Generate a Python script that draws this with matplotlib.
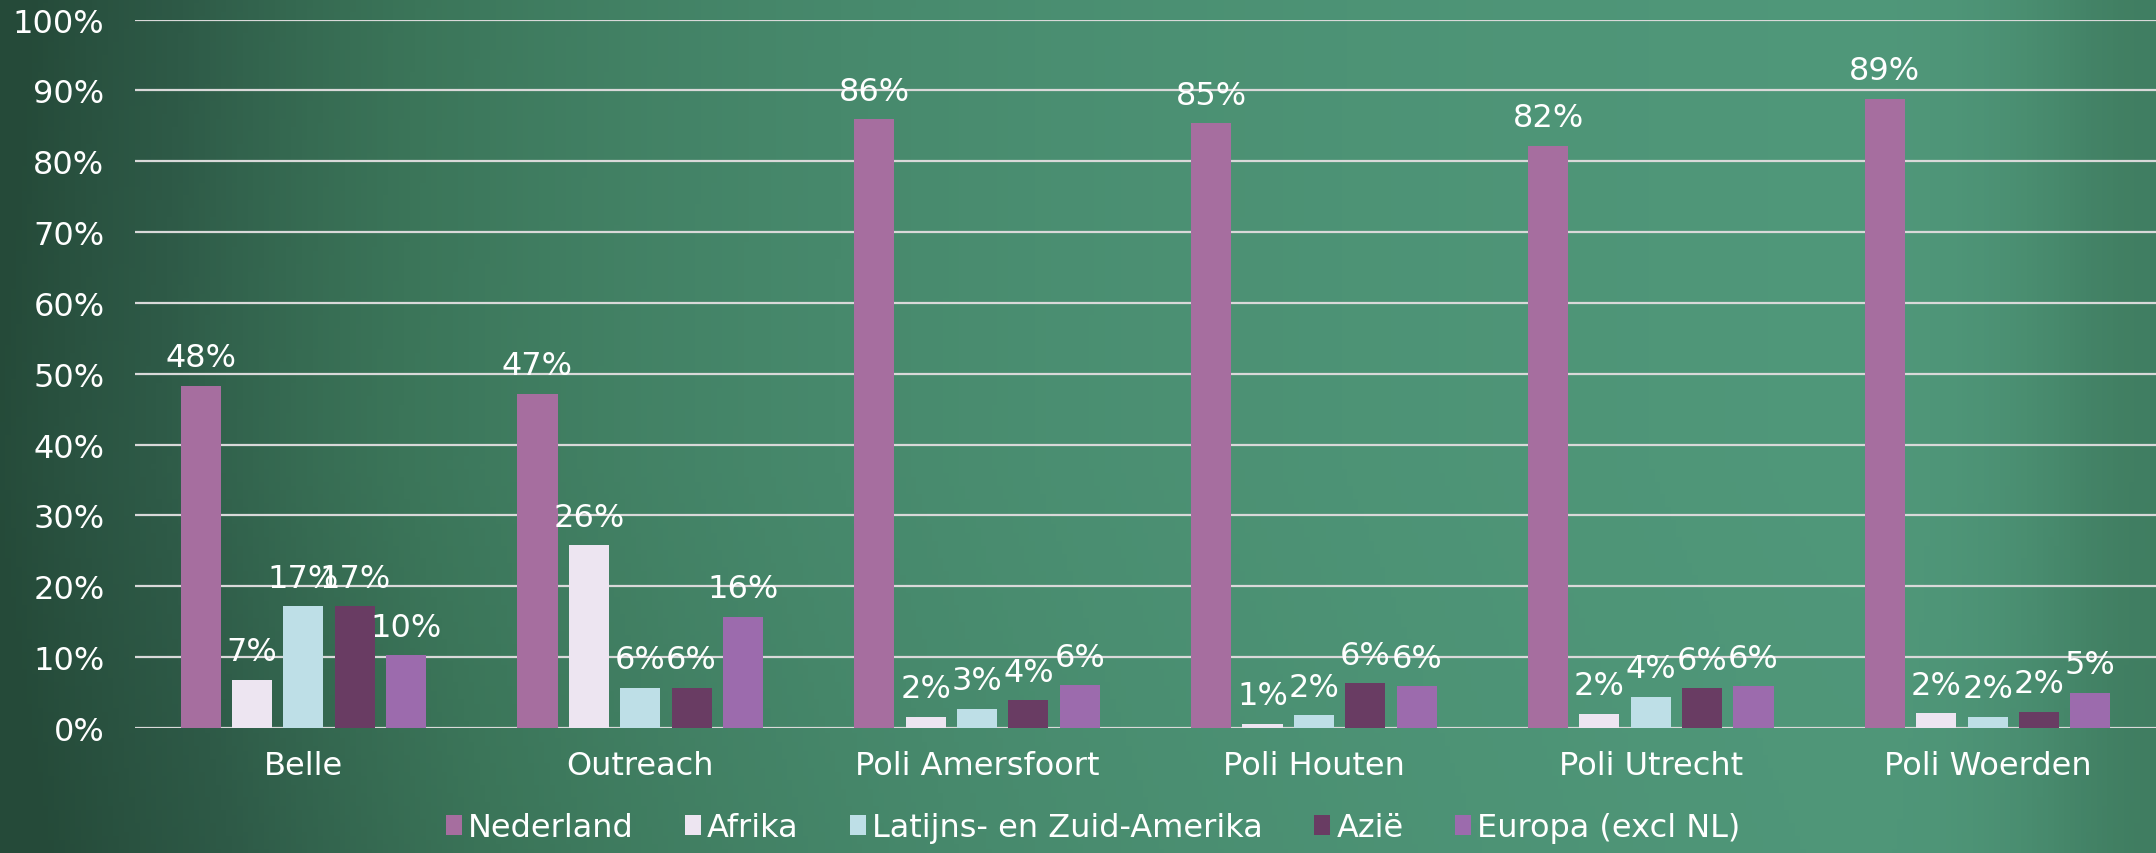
import numpy as np
import matplotlib.pyplot as plt
from matplotlib.colors import LinearSegmentedColormap
from matplotlib.ticker import PercentFormatter

# data (percent)
categories = ['Belle', 'Outreach', 'Poli Amersfoort', 'Poli Houten', 'Poli Utrecht', 'Poli Woerden']
series_names = ['Nederland', 'Afrika', 'Latijns- en Zuid-Amerika', 'Azië', 'Europa (excl NL)']
nederland = [48.3, 47.2, 85.9, 85.4, 82.2, 88.8]
afrika = [6.8, 25.8, 1.6, 0.6, 2.0, 2.1]
latijns = [17.2, 5.7, 2.7, 1.8, 4.4, 1.6]
azie = [17.2, 5.7, 3.9, 6.3, 5.6, 2.3]
europa = [10.3, 15.7, 6.0, 5.9, 5.9, 5.0]
yticks = [0, 10, 20, 30, 40, 50, 60, 70, 80, 90, 100]

colors = ['#A66E9F', '#EDE5F1', '#BEDFE7', '#693C63', '#9C6BAD']

plt.rcParams['font.family'] = ['DejaVu Sans']
fig = plt.figure(figsize=(21.56, 8.54), dpi=100)

# chalkboard-like background: smooth gradient
bg = fig.add_axes([0, 0, 1, 1], zorder=0)
gx, gy = np.meshgrid(np.linspace(0, 1, 400), np.linspace(0, 1, 200))
light = 1 - np.exp(-(gx + 0.03) / 0.3)
light = light - 0.35 * np.exp(-((gx - 1.0) ** 2) / 0.004)
light = light - 0.35 * np.clip(gy - 0.55, 0, None) * np.exp(-gx / 0.35)
light = light - 0.15 * np.exp(-gx / 0.1) * (1 - gy)
board = LinearSegmentedColormap.from_list('board', ['#254A39', '#2E5A47', '#3B7559', '#47896C', '#529B7D'])
bg.imshow(light, cmap=board, aspect='auto', extent=[0, 1, 0, 1], origin='upper', vmin=0.0, vmax=1.0)
bg.axis('off')

ax = fig.add_axes([0.0626, 0.1464, 0.9374, 0.8295], zorder=1)
ax.patch.set_alpha(0)

x = np.arange(len(categories))
width = 0.119
step = 0.1525
data = [nederland, afrika, latijns, azie, europa]
for i, (name, vals) in enumerate(zip(series_names, data)):
    pos = x + (i - 2) * step
    bars = ax.bar(pos, vals, width, color=colors[i], label=name, zorder=3)
    for b, v in zip(bars, vals):
        ax.annotate(f'{round(v):.0f}%', (b.get_x() + b.get_width() / 2, v),
                    xytext=(0, 9), textcoords='offset points',
                    ha='center', va='bottom', color='white', fontsize=23, zorder=4)

ax.set_xlim(-0.5, len(categories) - 0.5)
ax.set_ylim(0, 100)
ax.set_yticks(yticks)
ax.yaxis.set_major_formatter(PercentFormatter(decimals=0))
ax.set_xticks(x)
ax.set_xticklabels(categories)
ax.tick_params(axis='both', length=0, colors='white', labelsize=23)
ax.tick_params(axis='y', pad=22)
ax.tick_params(axis='x', pad=16)
ax.grid(axis='y', color='#D9D9D9', linewidth=1.6, zorder=1)
for s in ax.spines.values():
    s.set_visible(False)

leg = fig.legend(loc='lower center', bbox_to_anchor=(0.507, -0.022), ncol=5, frameon=False,
                 fontsize=23, handlelength=0.5, handleheight=0.6, handletextpad=0.2,
                 columnspacing=1.6, labelcolor='white')

fig.savefig('out.png', dpi=100)
